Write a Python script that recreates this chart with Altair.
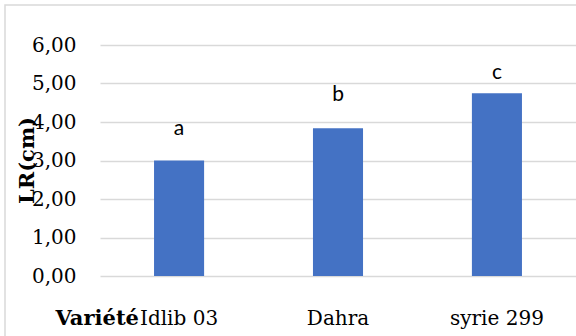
import altair as alt
import pandas as pd

# Variety root length (cm) with significance letters
varietes = ["Idlib 03", "Dahra", "syrie 299"]
longueur = [3.00, 3.84, 4.75]
lettres = ["a", "b", "c"]
lettre_pos = [3.82, 4.70, 5.27]
graduations = [0, 1, 2, 3, 4, 5, 6]

df = pd.DataFrame({
    "variete": varietes,
    "lr": longueur,
    "lettre": lettres,
    "pos": lettre_pos,
})

serif = "DejaVu Serif"

x_axis = alt.Axis(
    title="Variété",
    titleFont=serif,
    titleFontSize=21,
    titleFontWeight="bold",
    titleColor="#000000",
    titleAlign="left",
    titleBaseline="alphabetic",
    titleX=-45,
    titleY=48,
    labelAngle=0,
    labelFont=serif,
    labelFontSize=20,
    labelColor="#000000",
    labelBaseline="alphabetic",
    labelPadding=48,
    labelOverlap=False,
    domain=False,
    ticks=False,
)

y_axis = alt.Axis(
    title="LR(cm)",
    titleFont=serif,
    titleFontSize=21,
    titleFontWeight="bold",
    titleColor="#000000",
    titleAngle=-90,
    titleAlign="center",
    titleBaseline="middle",
    titleX=-73,
    titleY=115,
    values=graduations,
    labelExpr="replace(format(datum.value, '.2f'), '.', ',')",
    labelFont=serif,
    labelFontSize=20,
    labelColor="#000000",
    labelPadding=24,
    labelOverlap=False,
    domain=False,
    ticks=False,
    grid=True,
    gridColor="#D9D9D9",
    gridWidth=1.5,
)

x_scale = alt.Scale(paddingInner=0.685, paddingOuter=0.34)
y_scale = alt.Scale(domain=[0, 6], nice=False)

bars = alt.Chart(df).mark_bar(color="#4472C4").encode(
    x=alt.X("variete:N", sort=varietes, scale=x_scale, axis=x_axis),
    y=alt.Y("lr:Q", scale=y_scale, axis=y_axis),
)

letters = alt.Chart(df).mark_text(
    font="Lato", fontSize=21, color="#000000", baseline="middle"
).encode(
    x=alt.X("variete:N", sort=varietes, scale=x_scale, axis=x_axis),
    y=alt.Y("pos:Q", scale=y_scale, axis=y_axis),
    text="lettre:N",
)

frame = alt.Chart(alt.Data(values=[{}])).mark_rect(
    fill=None, stroke="#D9D9D9", strokeWidth=1.5
).encode(
    x=alt.value(-95), x2=alt.value(700),
    y=alt.value(-40), y2=alt.value(400),
)

chart = alt.layer(frame, bars, letters).properties(
    width=476,
    height=231,
    autosize=alt.AutoSizeParams(type="none"),
    padding={"left": 100, "top": 45, "right": 0, "bottom": 60},
).configure(background="#FFFFFF").configure_view(stroke=None)

chart.save("out.html", embed_options={"renderer": "svg", "actions": False})
